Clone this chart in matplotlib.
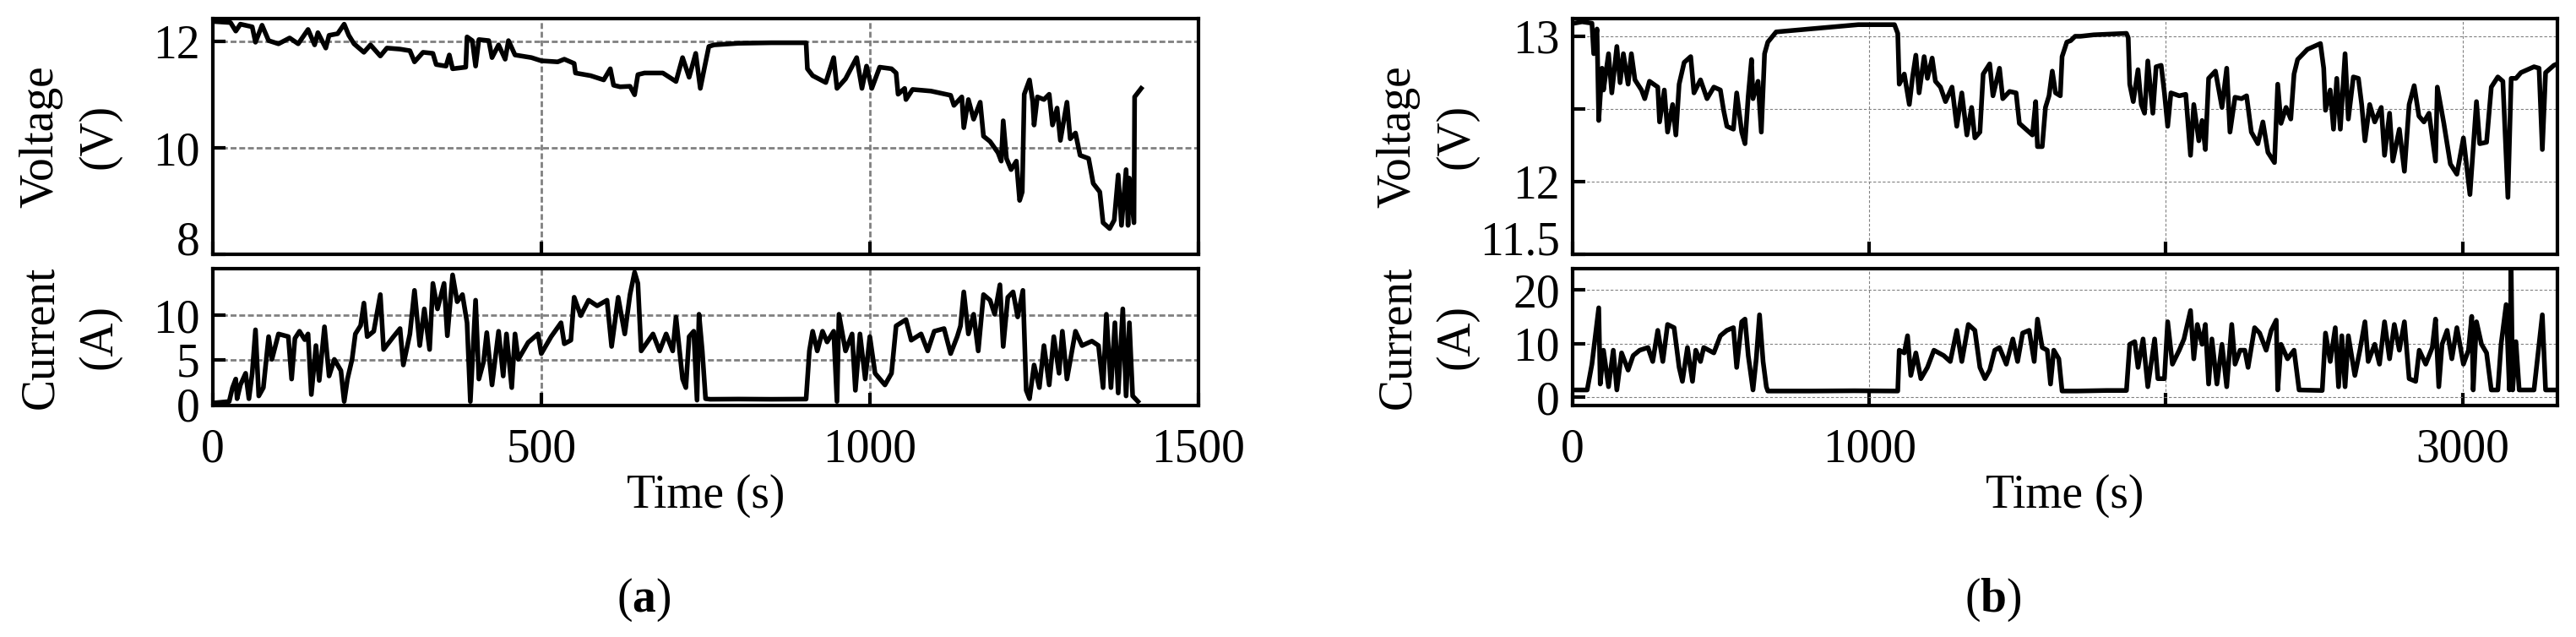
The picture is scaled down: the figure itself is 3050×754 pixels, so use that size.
import matplotlib
matplotlib.use("Agg")
import matplotlib.pyplot as plt
from matplotlib.transforms import ScaledTranslation

# ============================================================
# DATA
# ============================================================

# (a) short drive cycle
t_a_volt = [2, 27, 35, 42, 60, 65, 75, 85, 100, 117, 130, 145, 155, 160, 172, 177, 190, 200,
            207, 215, 230, 240, 255, 265, 285, 300, 307, 320, 335, 340, 355, 360, 365, 385,
            387, 395, 400, 405, 420, 425, 435, 445, 450, 460, 485, 500, 525, 535, 550, 552,
            575, 595, 605, 610, 620, 635, 642, 647, 657, 685, 705, 715, 725, 735, 742, 748,
            755, 763, 800, 850, 903, 905, 913, 933, 945, 950, 963, 980, 988, 995, 1003, 1015,
            1033, 1040, 1043, 1053, 1055, 1065, 1093, 1123, 1128, 1140, 1143, 1150, 1158,
            1168, 1173, 1183, 1195, 1200, 1203, 1208, 1215, 1223, 1228, 1232, 1235, 1243,
            1248, 1250, 1255, 1265, 1273, 1278, 1285, 1290, 1300, 1305, 1313, 1320, 1333,
            1340, 1350, 1355, 1365, 1372, 1378, 1383, 1390, 1393, 1395, 1402, 1403, 1408, 1413]
volt_a = [12.38, 12.36, 12.2, 12.33, 12.28, 11.99, 12.31, 12.02, 11.96, 12.07, 11.96, 12.23,
          11.94, 12.17, 11.88, 12.12, 12.15, 12.33, 12.12, 11.96, 11.8, 11.94, 11.73, 11.88,
          11.86, 11.83, 11.62, 11.8, 11.78, 11.57, 11.54, 11.75, 11.49, 11.52, 12.09, 12.02,
          11.54, 12.04, 12.02, 11.7, 11.94, 11.67, 12.02, 11.75, 11.7, 11.64, 11.62, 11.67,
          11.59, 11.41, 11.36, 11.28, 11.49, 11.18, 11.15, 11.16, 11.0, 11.38, 11.41, 11.41,
          11.25, 11.7, 11.33, 11.78, 11.12, 11.49, 11.91, 11.94, 11.97, 11.98, 11.98, 11.49,
          11.36, 11.23, 11.7, 11.12, 11.3, 11.7, 11.12, 11.54, 11.12, 11.52, 11.49, 11.41,
          11.01, 11.12, 10.91, 11.1, 11.07, 10.99, 10.8, 10.96, 10.38, 10.91, 10.54, 10.86,
          10.22, 10.12, 9.91, 9.75, 10.51, 9.8, 9.59, 9.75, 9.01, 9.17, 11.01, 11.28, 10.86,
          10.43, 10.96, 10.91, 11.01, 10.43, 10.75, 10.14, 10.86, 10.17, 10.28, 9.86, 9.8,
          9.33, 9.17, 8.59, 8.48, 8.64, 9.49, 8.54, 9.59, 8.54, 9.43, 8.59, 10.96, 11.04, 11.12]

t_a_curr = [2, 25, 30, 35, 37, 42, 50, 55, 60, 65, 70, 77, 85, 90, 100, 115, 120, 125, 132,
            140, 145, 150, 157, 162, 170, 177, 185, 195, 200, 205, 212, 217, 225, 230, 235,
            245, 255, 260, 275, 285, 290, 300, 307, 315, 322, 330, 335, 342, 352, 357, 365,
            372, 380, 387, 392, 400, 405, 412, 417, 425, 435, 442, 447, 455, 460, 465, 480,
            495, 500, 515, 530, 535, 545, 550, 560, 572, 585, 600, 607, 617, 627, 635, 642,
            647, 652, 670, 680, 690, 700, 705, 715, 720, 725, 732, 737, 740, 745, 750, 757,
            800, 850, 903, 908, 913, 920, 928, 935, 945, 950, 953, 963, 973, 978, 985, 993,
            1000, 1008, 1023, 1033, 1040, 1055, 1063, 1078, 1088, 1098, 1113, 1123, 1133,
            1138, 1143, 1150, 1158, 1165, 1173, 1183, 1190, 1198, 1203, 1210, 1218, 1225,
            1233, 1238, 1243, 1250, 1258, 1265, 1273, 1280, 1288, 1293, 1300, 1313, 1323,
            1338, 1348, 1355, 1360, 1367, 1373, 1378, 1385, 1390, 1395, 1400, 1408]
curr_a = [0.19, 0.35, 1.9, 2.86, 0.66, 2.2, 3.5, 0.66, 3.5, 8.36, 0.97, 1.9, 7.6, 5.06, 7.9,
          7.6, 2.86, 7.4, 8.2, 7.26, 7.9, 1.13, 6.6, 2.7, 8.7, 3.2, 5.06, 3.8, 0.35, 2.86,
          5.06, 7.9, 8.84, 11.35, 7.6, 8.2, 12.3, 6.16, 7.6, 8.5, 4.43, 7.9, 12.77, 6.6,
          10.7, 6.16, 13.55, 10.7, 13.55, 7.7, 14.5, 11.5, 12.3, 9.15, 0.35, 11.67, 2.86,
          4.75, 8.05, 2.2, 8.2, 3.2, 7.9, 1.9, 7.9, 5.06, 6.95, 7.9, 5.7, 7.6, 9.15, 6.8,
          7.2, 12.0, 9.94, 11.67, 11.04, 11.67, 6.5, 12.0, 7.9, 12.3, 14.8, 13.55, 6.0, 7.9,
          6.0, 7.9, 6.0, 9.78, 2.86, 1.9, 7.6, 8.2, 0.5, 10.1, 6.0, 0.66, 0.6, 0.62, 0.6,
          0.62, 6.0, 8.2, 6.0, 8.2, 7.0, 8.2, 0.35, 10.1, 6.0, 7.9, 1.6, 7.9, 2.86, 7.6, 3.5,
          2.2, 3.5, 8.8, 9.5, 7.2, 7.9, 6.0, 8.2, 8.5, 5.7, 7.6, 8.8, 12.6, 7.9, 10.1, 6.0,
          12.3, 11.67, 10.1, 13.4, 6.5, 12.0, 12.6, 9.8, 12.77, 1.6, 0.66, 4.43, 1.9, 6.6,
          2.2, 7.6, 3.5, 8.2, 2.86, 8.2, 6.6, 7.1, 6.6, 1.9, 10.1, 1.9, 9.15, 1.3, 10.7,
          0.97, 9.15, 0.97, 0.35]

# (b) long drive cycle
t_b_volt = [5, 32, 65, 71, 82, 88, 99, 104, 121, 132, 149, 160, 171, 187, 198, 210, 232, 243,
            259, 287, 293, 309, 320, 337, 348, 359, 376, 398, 409, 431, 453, 476, 498, 509,
            520, 542, 553, 570, 581, 592, 603, 608, 625, 636, 647, 658, 686, 741, 852, 963,
            1085, 1096, 1101, 1118, 1135, 1146, 1157, 1168, 1185, 1196, 1212, 1223, 1240,
            1257, 1279, 1295, 1312, 1329, 1345, 1356, 1373, 1384, 1406, 1417, 1439, 1450,
            1473, 1495, 1506, 1528, 1550, 1561, 1567, 1583, 1594, 1606, 1617, 1628, 1644,
            1650, 1666, 1679, 1694, 1712, 1757, 1867, 1873, 1878, 1890, 1906, 1917, 1928,
            1939, 1956, 1967, 1984, 1995, 2006, 2017, 2045, 2067, 2083, 2094, 2111, 2122,
            2133, 2144, 2167, 2189, 2205, 2216, 2233, 2255, 2272, 2288, 2310, 2327, 2344,
            2366, 2377, 2388, 2405, 2421, 2432, 2444, 2477, 2521, 2532, 2538, 2554, 2565,
            2576, 2588, 2604, 2615, 2632, 2649, 2660, 2671, 2687, 2704, 2726, 2737, 2754,
            2765, 2787, 2804, 2820, 2837, 2853, 2870, 2887, 2909, 2915, 2937, 2959, 2981,
            3003, 3025, 3047, 3058, 3081, 3097, 3119, 3136, 3153, 3164, 3180, 3197, 3241,
            3258, 3269, 3280, 3308, 3319]
volt_b = [13.09, 13.1, 13.09, 12.88, 13.05, 12.42, 12.78, 12.63, 12.88, 12.61, 12.93, 12.68,
          12.88, 12.67, 12.88, 12.7, 12.63, 12.57, 12.69, 12.65, 12.41, 12.63, 12.34, 12.53,
          12.32, 12.67, 12.82, 12.86, 12.61, 12.7, 12.57, 12.65, 12.63, 12.49, 12.38, 12.36,
          12.61, 12.34, 12.26, 12.59, 12.84, 12.57, 12.69, 12.34, 12.88, 12.96, 13.03, 13.04,
          13.06, 13.08, 13.08, 13.02, 12.67, 12.74, 12.53, 12.72, 12.87, 12.61, 12.86, 12.71,
          12.85, 12.69, 12.65, 12.55, 12.65, 12.38, 12.61, 12.32, 12.51, 12.3, 12.34, 12.74,
          12.81, 12.59, 12.78, 12.57, 12.62, 12.61, 12.4, 12.36, 12.32, 12.55, 12.24, 12.24,
          12.51, 12.59, 12.76, 12.61, 12.59, 12.86, 12.96, 12.97, 13.0, 13.0, 13.01, 13.02,
          12.99, 12.67, 12.55, 12.77, 12.53, 12.47, 12.83, 12.47, 12.79, 12.8, 12.61, 12.38,
          12.61, 12.59, 12.6, 12.18, 12.53, 12.28, 12.42, 12.22, 12.71, 12.76, 12.51, 12.78,
          12.34, 12.58, 12.57, 12.59, 12.34, 12.26, 12.41, 12.2, 12.13, 12.67, 12.4, 12.51,
          12.43, 12.74, 12.84, 12.91, 12.95, 12.78, 12.49, 12.63, 12.36, 12.71, 12.36, 12.88,
          12.43, 12.72, 12.71, 12.53, 12.28, 12.53, 12.41, 12.51, 12.18, 12.47, 12.14, 12.36,
          12.07, 12.53, 12.66, 12.45, 12.41, 12.47, 12.14, 12.65, 12.4, 12.12, 12.05, 12.3,
          11.91, 12.55, 12.26, 12.27, 12.65, 12.72, 12.69, 11.89, 12.71, 12.71, 12.75, 12.79,
          12.78, 12.22, 12.75, 12.8, 12.81]

t_b_curr = [5, 49, 65, 88, 93, 104, 121, 137, 149, 165, 187, 204, 226, 254, 270, 287, 304,
            320, 342, 359, 370, 387, 404, 415, 431, 442, 476, 498, 520, 542, 553, 570, 581,
            592, 608, 619, 630, 642, 653, 658, 800, 950, 1096, 1101, 1118, 1129, 1140, 1157,
            1174, 1196, 1218, 1251, 1273, 1295, 1312, 1334, 1356, 1373, 1390, 1406, 1423,
            1439, 1462, 1484, 1500, 1517, 1539, 1556, 1567, 1583, 1600, 1611, 1622, 1639,
            1650, 1700, 1800, 1867, 1878, 1895, 1906, 1923, 1939, 1962, 1973, 1995, 2006,
            2022, 2045, 2061, 2083, 2094, 2106, 2122, 2133, 2144, 2155, 2172, 2189, 2205,
            2222, 2233, 2250, 2266, 2277, 2299, 2316, 2338, 2355, 2372, 2377, 2388, 2410,
            2432, 2449, 2527, 2538, 2554, 2571, 2582, 2593, 2604, 2615, 2637, 2654, 2671,
            2682, 2704, 2720, 2737, 2754, 2770, 2787, 2804, 2820, 2842, 2854, 2876, 2898,
            2909, 2920, 2931, 2948, 2964, 2981, 3003, 3020, 3031, 3036, 3047, 3064, 3081,
            3097, 3119, 3130, 3147, 3158, 3164, 3169, 3180, 3191, 3241, 3269, 3280, 3319]
curr_b = [1.4, 1.4, 6.2, 16.7, 2.5, 8.8, 2.0, 8.8, 1.4, 8.3, 5.1, 7.8, 8.8, 9.3, 6.7, 12.5,
          6.7, 13.6, 13.0, 5.6, 3.0, 9.3, 3.0, 8.8, 6.7, 9.3, 8.3, 11.5, 12.5, 13.0, 5.6,
          14.1, 14.6, 7.8, 1.4, 7.2, 15.4, 6.7, 2.0, 1.2, 1.2, 1.25, 1.2, 8.8, 8.3, 11.5,
          4.1, 8.3, 3.5, 5.6, 8.8, 7.8, 6.7, 12.5, 6.7, 13.6, 12.5, 5.6, 3.5, 5.1, 8.8, 9.3,
          6.2, 10.9, 6.7, 12.0, 12.5, 6.7, 14.6, 9.3, 8.8, 2.5, 8.8, 7.2, 1.2, 1.2, 1.3, 1.3,
          9.9, 10.4, 5.6, 10.9, 2.0, 10.9, 3.5, 3.5, 14.1, 6.2, 8.8, 10.9, 16.2, 7.2, 13.6,
          9.9, 13.6, 2.5, 10.9, 2.5, 9.9, 2.0, 13.6, 6.2, 8.8, 8.8, 5.6, 13.0, 12.0, 8.8,
          12.5, 14.4, 1.4, 9.9, 7.2, 8.8, 1.4, 1.3, 12.0, 6.7, 13.0, 2.0, 11.5, 2.0, 11.5,
          4.1, 8.8, 14.1, 6.7, 9.9, 6.2, 14.1, 7.2, 13.6, 8.8, 14.1, 3.5, 3.0, 8.8, 6.2, 9.3,
          14.6, 2.0, 9.9, 12.5, 7.2, 13.0, 6.2, 8.8, 15.1, 1.4, 14.1, 9.9, 8.3, 1.4, 1.4,
          9.9, 17.3, 1.4, 23.9, 1.4, 10.4, 1.4, 1.4, 15.4, 1.4, 1.4]

# ============================================================
# STYLE
# ============================================================

plt.rcParams["font.family"] = ["Liberation Serif", "DejaVu Serif"]
plt.rcParams["mathtext.fontset"] = "custom"
plt.rcParams["mathtext.rm"] = "Liberation Serif"
plt.rcParams["mathtext.bf"] = "Liberation Serif:bold"

FS = 40
LW_DATA = 4.0
LSP = 1.42

grid_a = dict(color="#808080", linewidth=2.0, linestyle=(0, (2.5, 1.2)))
grid_b = dict(color="#808080", linewidth=0.8, linestyle=(0, (3, 2)))

fig = plt.figure(figsize=(30.5, 7.54), dpi=100)


def style_axes(ax, grid_kw):
    for s in ax.spines.values():
        s.set_linewidth(3)
    ax.tick_params(direction="in", length=11, width=3, labelsize=FS,
                   top=False, right=False)
    ax.tick_params(axis="y", pad=11)
    ax.tick_params(axis="x", pad=19)
    ax.grid(True, **grid_kw)


def shift_bottom_label(ax):
    # bottom y tick label sits a bit above its tick in the original
    lab = ax.get_yticklabels()[0]
    lab.set_transform(lab.get_transform() + ScaledTranslation(0, 0.19, fig.dpi_scale_trans))


# ============================================================
# (a)
# ============================================================

ax1 = fig.add_axes([0.0826, 0.6012, 0.3826, 0.3692])
ax1.plot(t_a_volt, volt_a, color="black", linewidth=LW_DATA)
ax1.set_xlim(0, 1500)
ax1.set_ylim(8, 12.43)
ax1.set_xticks([0, 500, 1000, 1500])
ax1.set_xticklabels([])
ax1.set_yticks([8, 10, 12])
style_axes(ax1, grid_a)
ax1.set_ylabel("Voltage\n(V)", fontsize=FS, linespacing=LSP)
ax1.yaxis.set_label_coords(-0.093, 0.5)
shift_bottom_label(ax1)

ax2 = fig.add_axes([0.0826, 0.3634, 0.3826, 0.2149])
ax2.plot(t_a_curr, curr_a, color="black", linewidth=LW_DATA)
ax2.set_xlim(0, 1500)
ax2.set_ylim(-0.1, 15.2)
ax2.set_xticks([0, 500, 1000, 1500])
ax2.set_yticks([0, 5, 10])
style_axes(ax2, grid_a)
ax2.set_ylabel("Current\n(A)", fontsize=FS, linespacing=LSP)
ax2.yaxis.set_label_coords(-0.093, 0.5)
ax2.set_xlabel("Time (s)", fontsize=FS)
ax2.xaxis.set_label_coords(0.5, -0.50)

fig.text(762 / 3050, 0.058, r"$\mathrm{(}\mathbf{a}\mathrm{)}$", fontsize=FS,
         ha="center", va="center")

# ============================================================
# (b)
# ============================================================

ax3 = fig.add_axes([0.6105, 0.6012, 0.3823, 0.3692])
ax3.plot(t_b_volt, volt_b, color="black", linewidth=LW_DATA)
ax3.set_xlim(0, 3320)
ax3.set_ylim(11.5, 13.12)
ax3.set_xticks([0, 1000, 2000, 3000])
ax3.set_xticklabels([])
ax3.set_yticks([11.5, 12, 12.5, 13])
ax3.set_yticklabels(["11.5", "12", "", "13"])
style_axes(ax3, grid_b)
ax3.set_ylabel("Voltage\n(V)", fontsize=FS, linespacing=LSP)
ax3.yaxis.set_label_coords(-0.096, 0.5)
shift_bottom_label(ax3)

ax4 = fig.add_axes([0.6105, 0.3634, 0.3823, 0.2149])
ax4.plot(t_b_curr, curr_b, color="black", linewidth=LW_DATA)
ax4.set_xlim(0, 3320)
ax4.set_ylim(-1.5, 24)
ax4.set_xticks([0, 1000, 2000, 3000])
ax4.set_xticklabels(["0", "1000", "", "3000"])
ax4.set_yticks([0, 10, 20])
style_axes(ax4, grid_b)
ax4.set_ylabel("Current\n(A)", fontsize=FS, linespacing=LSP)
ax4.yaxis.set_label_coords(-0.096, 0.5)
ax4.set_xlabel("Time (s)", fontsize=FS)
ax4.xaxis.set_label_coords(0.5, -0.50)

fig.text(2360 / 3050, 0.058, r"$\mathrm{(}\mathbf{b}\mathrm{)}$", fontsize=FS,
         ha="center", va="center")

fig.savefig("out.png", dpi=100)
